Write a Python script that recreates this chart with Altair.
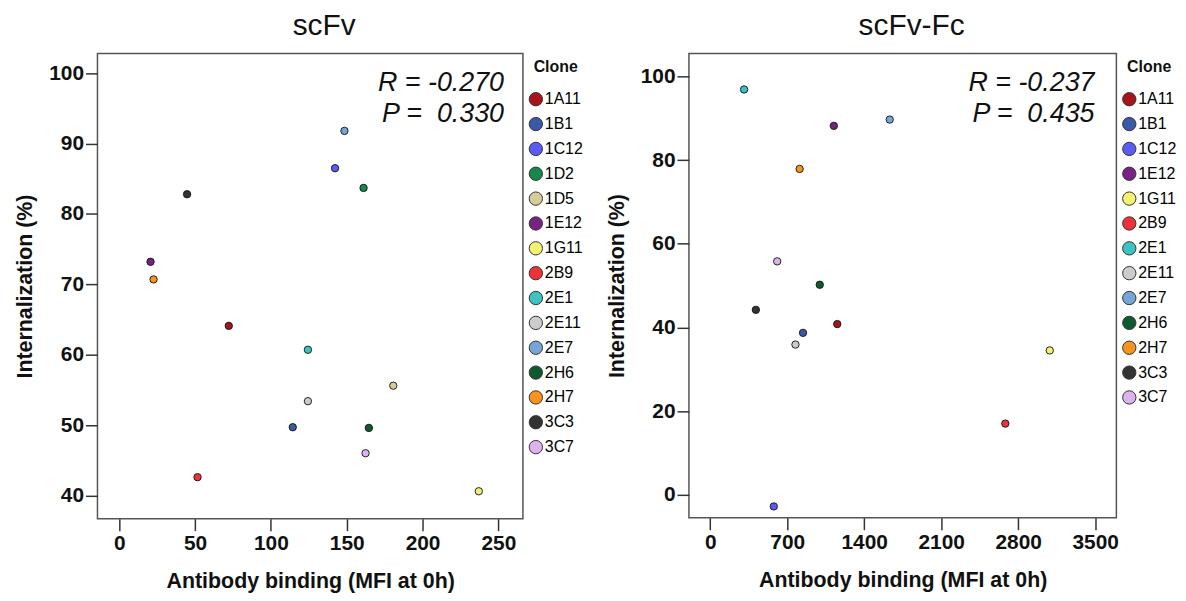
import altair as alt
import pandas as pd

# ---- data ----
left_clones = ["1A11", "1B1", "1C12", "1D2", "1D5", "1E12", "1G11", "2B9",
               "2E1", "2E11", "2E7", "2H6", "2H7", "3C3", "3C7"]
left_binding = [72.2, 114.4, 142.3, 161.1, 180.7, 20.6, 237.1, 51.6,
                124.4, 124.4, 148.5, 164.6, 22.6, 44.7, 162.4]
left_intern = [64.1, 49.7, 86.5, 83.7, 55.6, 73.2, 40.6, 42.6,
               60.7, 53.4, 91.8, 49.6, 70.7, 82.8, 46.0]

right_clones = ["1A11", "1B1", "1C12", "1E12", "1G11", "2B9", "2E1",
                "2E11", "2E7", "2H6", "2H7", "3C3", "3C7"]
right_binding = [1155, 844, 578, 1124, 3087, 2683, 308,
                 775, 1632, 996, 813, 415, 609]
right_intern = [40.8, 38.7, -2.8, 88.2, 34.5, 17.0, 96.9,
                35.9, 89.7, 50.2, 77.9, 44.2, 55.8]

clone_colors = {
    "1A11": "#A8141C", "1B1": "#3C58A8", "1C12": "#5A5AF5", "1D2": "#16884A",
    "1D5": "#D5CC9A", "1E12": "#7A2283", "1G11": "#F5F070", "2B9": "#EE3338",
    "2E1": "#3CC3C3", "2E11": "#CCCCCC", "2E7": "#76A6D8", "2H6": "#0D5A2E",
    "2H7": "#F7941E", "3C3": "#333333", "3C7": "#DDB2EE",
}

left_stats = ["R = -0.270", "P =\u00a0\u00a00.330"]
right_stats = ["R = -0.237", "P =\u00a0\u00a00.435"]

left_xticks = [0, 50, 100, 150, 200, 250]
left_yticks = [40, 50, 60, 70, 80, 90, 100]
right_xticks = [0, 700, 1400, 2100, 2800, 3500]
right_yticks = [0, 20, 40, 60, 80, 100]

XTITLE = "Antibody binding (MFI at 0h)"
YTITLE = "Internalization (%)"


def stat_text(s, x, y):
    return alt.Chart(pd.DataFrame({"txt": [s]})).mark_text(
        align="right", baseline="middle", fontSize=27, fontStyle="italic",
        font="Liberation Sans", color="#111111"
    ).encode(text="txt:N", x=alt.value(x), y=alt.value(y))


def panel(title, clones, xs, ys, stats, xdom, ydom, xticks, yticks, w, h, rx, tdx):
    df = pd.DataFrame({"Clone": clones, "binding": xs, "intern": ys})
    colors = [clone_colors[c] for c in clones]
    pts = alt.Chart(df).mark_point(
        filled=True, shape="circle", size=55, stroke="#111111",
        strokeWidth=0.9, opacity=1
    ).encode(
        x=alt.X("binding:Q", title=XTITLE,
                scale=alt.Scale(domain=xdom, nice=False, zero=False),
                axis=alt.Axis(values=xticks, format="d", titlePadding=17)),
        y=alt.Y("intern:Q", title=YTITLE,
                scale=alt.Scale(domain=ydom, nice=False, zero=False),
                axis=alt.Axis(values=yticks, format="d", titlePadding=12)),
        color=alt.Color("Clone:N",
                        scale=alt.Scale(domain=clones, range=colors),
                        legend=alt.Legend(title="Clone", orient="none",
                                          legendX=w + 5, legendY=6)),
    )
    t1 = stat_text(stats[0], w - rx, 29.5)
    t2 = stat_text(stats[1], w - rx, 61)
    return alt.layer(pts, t1, t2).properties(
        width=w, height=h,
        title=alt.TitleParams(title, fontSize=30, fontWeight="normal",
                              font="Liberation Sans", anchor="middle", dx=tdx,
                              offset=13, color="#111111"),
    )


left = panel("scFv", left_clones, left_binding, left_intern, left_stats,
             [-14.4, 266.2], [36.7, 102.8], left_xticks, left_yticks, 428, 468, 19, 14)
right = panel("scFv-Fc", right_clones, right_binding, right_intern, right_stats,
              [-193.5, 3692.6], [-5.5, 105.5], right_xticks, right_yticks, 430, 467, 22, 9)

chart = alt.hconcat(left, right, spacing=21).resolve_scale(
    color="independent"
).resolve_legend(color="independent").configure(
    padding={"left": 6, "right": 0, "top": 0, "bottom": 0}
).configure_view(
    stroke="#555555", strokeWidth=1.5
).configure_axis(
    domain=False, grid=False, tickSize=12, tickWidth=1.5, tickColor="#333333",
    labelFont="Liberation Sans Narrow, Liberation Sans", labelFontSize=21,
    labelFontWeight="bold", labelColor="#111111", labelPadding=2,
    titleFont="Liberation Sans", titleFontSize=21.5, titleFontWeight="bold",
    titleColor="#111111"
).configure_legend(
    titleFont="Liberation Sans",
    titleFontSize=16, titleFontWeight="bold", titleColor="#111111",
    titleAnchor="middle", titlePadding=16, labelFont="Liberation Sans",
    labelFontSize=16, labelColor="#000000",
    symbolSize=180, symbolStrokeColor="#333333", symbolStrokeWidth=1,
    rowPadding=7, labelOffset=1, symbolType="circle"
)

chart.save("out.html", embed_options={"renderer": "svg", "actions": False})
